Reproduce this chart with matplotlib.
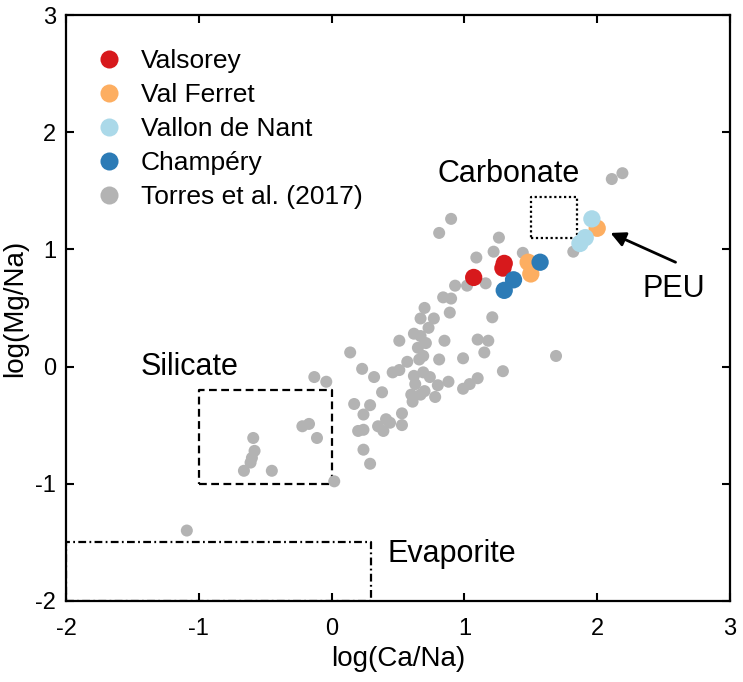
import matplotlib
matplotlib.use('Agg')
import matplotlib.pyplot as plt
from matplotlib.lines import Line2D

plt.rcParams['font.family'] = ['Liberation Sans', 'DejaVu Sans']
plt.rcParams['axes.unicode_minus'] = False

# Torres et al. (2017) compilation
torres_x = [2.11, 2.19, 0.90, 0.81, 1.26, 1.22, 1.09, 1.44, 1.82, 0.93, 1.02, 1.16,
            0.84, 0.90, 0.89, 0.70, 0.67, 0.77, 1.21, 0.73, 0.62, 0.67, 0.51, 0.71,
            0.85, 1.10, 1.18, 0.65, 0.14, 0.69, 0.66, 0.81, 0.99, 1.15, 0.57, 1.69,
            0.23, 0.32, 0.46, 0.51, 0.62, 0.69, 0.74, 0.80, 0.88, 0.99, 1.04, 1.10,
            1.29, 0.63, 0.60, 0.61, 0.67, 0.70, 0.78, 0.38, 0.17, 0.29, 0.24, 0.41,
            0.44, 0.53, 0.53, 0.35, 0.39, 0.24, 0.20, 0.24, 0.29, -0.13, -0.04, -0.22,
            -0.17, -0.11, -0.59, -0.58, -0.60, -0.61, -0.66, -0.45, 0.02, -1.09]
torres_y = [1.60, 1.65, 1.26, 1.14, 1.10, 0.98, 0.93, 0.97, 0.98, 0.69, 0.69, 0.71,
            0.59, 0.58, 0.46, 0.50, 0.41, 0.41, 0.42, 0.33, 0.28, 0.26, 0.22, 0.20,
            0.22, 0.23, 0.22, 0.16, 0.12, 0.09, 0.06, 0.06, 0.07, 0.12, 0.04, 0.09,
            -0.02, -0.09, -0.05, -0.03, -0.08, -0.05, -0.09, -0.16, -0.13, -0.19, -0.15, -0.10,
            -0.04, -0.15, -0.24, -0.30, -0.24, -0.21, -0.26, -0.22, -0.32, -0.33, -0.41, -0.45,
            -0.48, -0.40, -0.50, -0.51, -0.55, -0.54, -0.55, -0.71, -0.83, -0.09, -0.13, -0.51,
            -0.49, -0.61, -0.61, -0.72, -0.78, -0.82, -0.89, -0.89, -0.98, -1.40]

valsorey_x = [1.07, 1.30, 1.29]
valsorey_y = [0.76, 0.88, 0.84]
ferret_x = [1.48, 1.50, 2.00]
ferret_y = [0.89, 0.79, 1.18]
nant_x = [1.96, 1.91, 1.87]
nant_y = [1.26, 1.10, 1.05]
champery_x = [1.57, 1.37, 1.30]
champery_y = [0.89, 0.74, 0.65]

# end-member boxes: (xmin, xmax, ymin, ymax)
silicate_box = (-1.0, 0.0, -1.0, -0.2)
carbonate_box = (1.5, 1.85, 1.1, 1.45)
evaporite_box = (-2.0, 0.3, -2.0, -1.5)

groups = [
    ('Valsorey', valsorey_x, valsorey_y, '#d7191c'),
    ('Val Ferret', ferret_x, ferret_y, '#fdae61'),
    ('Vallon de Nant', nant_x, nant_y, '#abd9e9'),
    ('Champéry', champery_x, champery_y, '#2c7bb6'),
]
grey = '#b3b3b3'


def draw_box(ax, box, ls):
    x0, x1, y0, y1 = box
    ax.plot([x0, x1, x1, x0, x0], [y0, y0, y1, y1, y0], color='black', ls=ls, lw=1.6, zorder=1)


fig = plt.figure(figsize=(7.43, 6.82), dpi=100)
ax = fig.add_axes([0.0888, 0.119, 0.8937, 0.859])

ax.scatter(torres_x, torres_y, s=75, color=grey, edgecolors='none', zorder=2)
for name, xs, ys, col in groups:
    ax.scatter(xs, ys, s=155, color=col, edgecolors='none', zorder=3)

draw_box(ax, silicate_box, (0, (3.5, 2)))
draw_box(ax, carbonate_box, (0, (1, 1.2)))
draw_box(ax, evaporite_box, (0, (3.5, 1.5, 0.8, 1.5)))

ax.text(1.33, 1.64, 'Carbonate', fontsize=22, ha='center', va='center')
ax.text(-1.07, 0.0, 'Silicate', fontsize=22, ha='center', va='center')
ax.text(0.42, -1.60, 'Evaporite', fontsize=22, ha='left', va='center')
ax.text(2.58, 0.66, 'PEU', fontsize=22, ha='center', va='center')
ax.annotate('', xy=(2.10, 1.14), xytext=(2.59, 0.89),
            arrowprops=dict(arrowstyle='-|>', color='black', lw=2,
                            mutation_scale=22, shrinkA=0, shrinkB=0))

handles = [Line2D([], [], ls='none', marker='o', ms=13, mfc=c, mec='none', label=n)
           for n, _, _, c in groups]
handles.append(Line2D([], [], ls='none', marker='o', ms=13, mfc=grey, mec='none',
                      label='Torres et al. (2017)'))
ax.legend(handles=handles, loc='upper left', frameon=False, fontsize=19,
          handlelength=1.5, handletextpad=0.45, labelspacing=0.38,
          borderaxespad=0, bbox_to_anchor=(0.019, 0.960))

ax.set_xlim(-2, 3)
ax.set_ylim(-2, 3)
ax.set_xticks([-2, -1, 0, 1, 2, 3])
ax.set_yticks([-2, -1, 0, 1, 2, 3])
ax.tick_params(direction='in', length=6, width=1.5, labelsize=17,
               top=True, right=True)
ax.tick_params(axis='x', pad=12)
ax.tick_params(axis='y', pad=7)
for sp in ax.spines.values():
    sp.set_linewidth(1.6)
ax.set_xlabel('log(Ca/Na)', fontsize=20, labelpad=5)
ax.set_ylabel('log(Mg/Na)', fontsize=20, labelpad=5)

fig.savefig('out.png', dpi=100)
